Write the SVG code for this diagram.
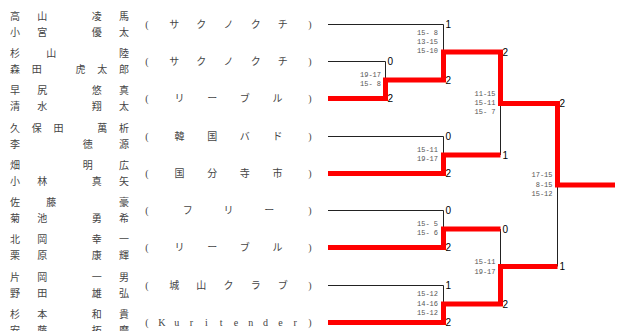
<svg xmlns="http://www.w3.org/2000/svg" width="623" height="331" viewBox="0 0 623 331">
<style>
.nm{font-family:"Noto Sans CJK JP",sans-serif;font-size:10px;fill:#444;text-anchor:middle}
.cl{font-family:"Liberation Serif","Noto Sans CJK JP",serif;font-size:10px;fill:#444;text-anchor:middle}
.sc{font-family:"Liberation Mono",monospace;font-size:7px;fill:#555;text-anchor:end}
.pt{font-family:"Liberation Sans",sans-serif;font-size:10px;fill:#000}
.ln{stroke:#222;stroke-width:1;fill:none}
.win{stroke:#f00;stroke-width:5;fill:none;stroke-linejoin:miter}
</style>
<rect width="623" height="331" fill="#fff"/>
<g id="team1">
<text class="nm" x="15 42.25 69.5 96.75 124" y="20.3">高山　凌馬</text>
<text class="nm" x="15 42.25 69.5 96.75 124" y="35.8">小宮　優太</text>
<text class="cl" x="147 174.17 201.33 228.5 255.67 282.83 310" y="27.5">(サクノクチ)</text>
</g>
<g id="team2">
<text class="nm" x="15 51.33 87.67 124" y="57.3">杉山　陸</text>
<text class="nm" x="15 36.8 58.6 80.4 102.2 124" y="72.8">森田　虎太郎</text>
<text class="cl" x="147 174.17 201.33 228.5 255.67 282.83 310" y="64.5">(サクノクチ)</text>
</g>
<g id="team3">
<text class="nm" x="15 42.25 69.5 96.75 124" y="94.3">早尻　悠真</text>
<text class="nm" x="15 42.25 69.5 96.75 124" y="109.8">清水　翔太</text>
<text class="cl" x="147 179.6 212.2 244.8 277.4 310" y="101.5">(リーブル)</text>
</g>
<g id="team4">
<text class="nm" x="15 36.8 58.6 80.4 102.2 124" y="132.3">久保田　萬析</text>
<text class="nm" x="15 51.33 87.67 124" y="147.8">李　徳源</text>
<text class="cl" x="147 179.6 212.2 244.8 277.4 310" y="139.5">(韓国バド)</text>
</g>
<g id="team5">
<text class="nm" x="15 51.33 87.67 124" y="169.3">畑　明広</text>
<text class="nm" x="15 42.25 69.5 96.75 124" y="184.8">小林　真矢</text>
<text class="cl" x="147 179.6 212.2 244.8 277.4 310" y="176.5">(国分寺市)</text>
</g>
<g id="team6">
<text class="nm" x="15 51.33 87.67 124" y="206.3">佐藤　豪</text>
<text class="nm" x="15 42.25 69.5 96.75 124" y="221.8">菊池　勇希</text>
<text class="cl" x="147 187.75 228.5 269.25 310" y="213.5">(フリー)</text>
</g>
<g id="team7">
<text class="nm" x="15 42.25 69.5 96.75 124" y="243.3">北岡　幸一</text>
<text class="nm" x="15 42.25 69.5 96.75 124" y="258.8">栗原　康輝</text>
<text class="cl" x="147 179.6 212.2 244.8 277.4 310" y="250.5">(リーブル)</text>
</g>
<g id="team8">
<text class="nm" x="15 42.25 69.5 96.75 124" y="281.3">片岡　一男</text>
<text class="nm" x="15 42.25 69.5 96.75 124" y="296.8">野田　雄弘</text>
<text class="cl" x="147 174.17 201.33 228.5 255.67 282.83 310" y="288.5">(城山クラブ)</text>
</g>
<g id="team9">
<text class="nm" x="15 42.25 69.5 96.75 124" y="318.3">杉本　和貴</text>
<text class="nm" x="15 42.25 69.5 96.75 124" y="333.8">安藤　拓磨</text>
<text class="cl" x="147 161.82 176.64 191.45 206.27 221.09 235.91 250.73 265.55 280.36 295.18 310" y="326">(Kuritender)</text>
</g>
<g id="connectors">
<path class="ln" d="M328,24.5H443.5V80 M328,61.5H385.5V98.5H328 M328,136.5H443.5V173.5H328 M328,210.5H443.5V247.5H328 M328,285.5H443.5V322.5H328 M500.5,52V155 M500.5,229V304 M557.5,103.5V266.5"/>
<path class="win" d="M328,98.5H385.5V80H443.5V52H500.5V103.5H557.5V185H615"/>
<path class="win" d="M328,173.5H443.5V155H500.5"/>
<path class="win" d="M328,247.5H443.5V229H500.5"/>
<path class="win" d="M328,322.5H443.5V304H500.5V266.5H557.5"/>
</g>
<g id="match1">
<text class="pt" x="387.5" y="65">0</text><text class="pt" x="387.5" y="102">2</text>
<text class="sc" x="381" y="77">19-17</text><text class="sc" x="381" y="86.3">15- 8</text>
</g>
<g id="match2">
<text class="pt" x="445.5" y="28">1</text><text class="pt" x="445.5" y="83.5">2</text>
<text class="sc" x="438" y="34.7">15- 8</text><text class="sc" x="438" y="43.7">13-15</text><text class="sc" x="438" y="52.7">15-10</text>
</g>
<g id="match3">
<text class="pt" x="445.5" y="140">0</text><text class="pt" x="445.5" y="177">2</text>
<text class="sc" x="438" y="151.5">15-11</text><text class="sc" x="438" y="161">19-17</text>
</g>
<g id="match4">
<text class="pt" x="502.5" y="55.5">2</text><text class="pt" x="502.5" y="158.5">1</text>
<text class="sc" x="495.5" y="95.5">11-15</text><text class="sc" x="495.5" y="105">15-11</text><text class="sc" x="495.5" y="114.3">15- 7</text>
</g>
<g id="match5">
<text class="pt" x="445.5" y="214">0</text><text class="pt" x="445.5" y="251">2</text>
<text class="sc" x="438" y="226">15- 5</text><text class="sc" x="438" y="235.3">15- 6</text>
</g>
<g id="match6">
<text class="pt" x="445.5" y="289">1</text><text class="pt" x="445.5" y="326">2</text>
<text class="sc" x="438" y="296.2">15-12</text><text class="sc" x="438" y="305.5">14-16</text><text class="sc" x="438" y="315">15-12</text>
</g>
<g id="match7">
<text class="pt" x="502.5" y="232.5">0</text><text class="pt" x="502.5" y="307.5">2</text>
<text class="sc" x="495.5" y="264">15-11</text><text class="sc" x="495.5" y="273.5">19-17</text>
</g>
<g id="final">
<text class="pt" x="559.5" y="107">2</text><text class="pt" x="559.5" y="270">1</text>
<text class="sc" x="552.5" y="177.2">17-15</text><text class="sc" x="552.5" y="186.5">8-15</text><text class="sc" x="552.5" y="196">15-12</text>
</g>
</svg>
